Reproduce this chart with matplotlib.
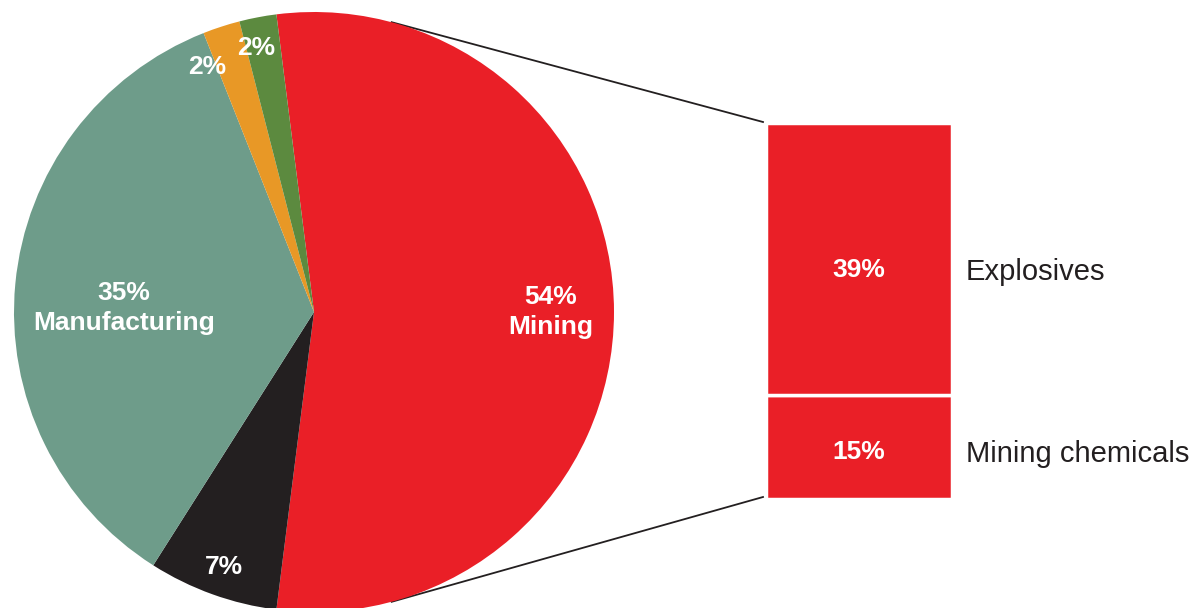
import numpy as np
import matplotlib.pyplot as plt

plt.rcParams['font.family'] = ['Liberation Sans', 'DejaVu Sans']

# end-use shares (%)
sectors = ['Mining', 'Other', 'Manufacturing', 'Agriculture', 'Construction']
shares = [54, 7, 35, 2, 2]
pie_labels = ['54%\nMining', '7%', '35%\nManufacturing', '2%', '2%']
colors = ['#EA1F27', '#231F20', '#6E9C8A', '#E89826', '#5C8A3F']
# label placement: (angle in degrees, fraction of radius)
label_pos = [(0, 0.79), (-109.5, 0.9), (178.8, 0.633), (113.5, 0.89), (102.3, 0.9)]

# breakdown of the mining share
mining_parts = ['Mining chemicals', 'Explosives']
mining_shares = [15, 39]
label_drop = [12, 18]

fig = plt.figure(figsize=(11.97, 6.08), dpi=100)
ax = fig.add_axes([0, 0, 1, 1])

cx, cy, R = 314, 296, 300
wedges, _ = ax.pie(shares, colors=colors, startangle=shares[0] * 3.6 / 2,
                   counterclock=False, center=(cx, cy), radius=R,
                   wedgeprops=dict(linewidth=0))
ax.set_xlim(0, 1197)
ax.set_ylim(0, 608)
ax.set_aspect('equal')
ax.axis('off')

for lab, (a, r) in zip(pie_labels, label_pos):
    t = np.deg2rad(a)
    ax.text(cx + r * R * np.cos(t), cy + r * R * np.sin(t), lab,
            ha='center', va='center', color='white', fontsize=19,
            fontweight='bold', linespacing=1.3)

# stacked bar for the mining split
px_per_pct = 376 / sum(mining_shares)
bar_x, bar_w, bar_base = 859, 186, 109
bottom = bar_base
for name, val, dy in zip(mining_parts, mining_shares, label_drop):
    h = val * px_per_pct
    ax.bar(bar_x, h, width=bar_w, bottom=bottom, color='#EA1F27',
           edgecolor='white', linewidth=2.5)
    mid = bottom + h / 2
    ax.text(bar_x, mid - dy, f'{val}%', ha='center', va='baseline',
            color='white', fontsize=19, fontweight='bold')
    ax.text(966, mid - dy - 3, name, ha='left', va='baseline',
            color='#231F20', fontsize=21)
    bottom += h

# connector lines from pie to bar
top_bar = bar_base + sum(mining_shares) * px_per_pct
for a, yb in [(75, top_bar + 1), (-75, bar_base + 2)]:
    t = np.deg2rad(a)
    ax.plot([cx + R * np.cos(t), 763], [cy + R * np.sin(t), yb],
            color='#231F20', linewidth=1.3, zorder=0)

fig.savefig('out.png', dpi=100)
